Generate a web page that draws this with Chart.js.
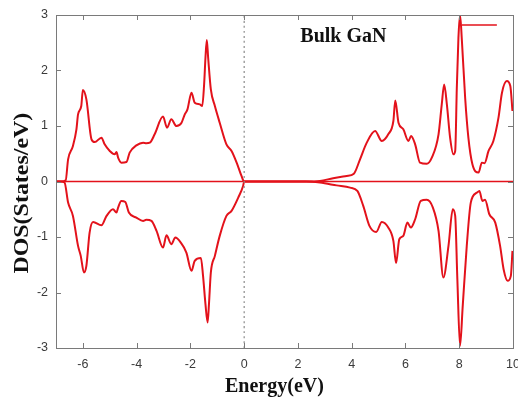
<!DOCTYPE html>
<html>
<head>
<meta charset="utf-8">
<script src="https://cdn.jsdelivr.net/npm/chart.js@4.4.1/dist/chart.umd.min.js"></script>
<style>
  html, body { margin: 0; padding: 0; background: #fff; }
</style>
</head>
<body>
<canvas id="chart" width="518" height="398"></canvas>
<script>
'use strict'

// ------------- data ------------- //
var upEnergy = [-7.0, -6.8, -6.64, -6.55, -6.37, -6.24, -6.18, -6.06, -6.0, -5.87,
  -5.68, -5.56, -5.31, -5.19, -5.0, -4.82, -4.75, -4.69, -4.57, -4.38,
  -4.26, -4.01, -3.76, -3.64, -3.51, -3.33, -3.02, -2.87, -2.71, -2.52,
  -2.33, -2.21, -2.11, -1.96, -1.84, -1.65, -1.56, -1.49, -1.44, -1.39,
  -1.34, -1.24, -1.09, -0.91, -0.66, -0.47, -0.28, -0.1, 0.0, 1.8,
  2.3, 2.82, 3.31, 3.81, 4.08, 4.31, 4.56, 4.87, 5.12, 5.36,
  5.55, 5.62, 5.74, 5.92, 6.11, 6.21, 6.36, 6.54, 6.79, 6.98,
  7.23, 7.35, 7.44, 7.54, 7.66, 7.78, 7.85, 7.91, 7.97, 8.03,
  8.1, 8.22, 8.34, 8.49, 8.72, 8.84, 8.94, 9.09, 9.27, 9.46,
  9.59, 9.77, 9.9, 9.98];
var upDos = [0, 0, 0.02, 0.4, 0.64, 0.94, 1.21, 1.36, 1.65, 1.48,
  0.76, 0.71, 0.79, 0.67, 0.55, 0.49, 0.53, 0.43, 0.34, 0.35,
  0.52, 0.65, 0.7, 0.69, 0.7, 0.85, 1.17, 0.97, 1.12, 1.0,
  1.06, 1.21, 1.3, 1.6, 1.42, 1.39, 1.36, 1.75, 2.23, 2.55,
  2.23, 1.66, 1.36, 1.06, 0.67, 0.55, 0.34, 0.1, 0, 0,
  0, 0.01, 0.06, 0.1, 0.14, 0.4, 0.7, 0.91, 0.73, 0.85,
  1.09, 1.46, 1.06, 0.94, 0.73, 0.82, 0.67, 0.34, 0.32, 0.43,
  0.85, 1.39, 1.75, 1.39, 0.79, 0.49, 0.55, 1.69, 2.59, 3.0,
  2.53, 1.51, 0.79, 0.31, 0.16, 0.34, 0.33, 0.55, 0.73, 1.15,
  1.6, 1.81, 1.72, 1.27];

var downEnergy = [-7.0, -6.8, -6.68, -6.55, -6.37, -6.18, -6.08, -5.96, -5.87, -5.75,
  -5.62, -5.31, -5.12, -4.88, -4.75, -4.69, -4.57, -4.42, -4.29, -4.01,
  -3.76, -3.64, -3.45, -3.26, -3.02, -2.89, -2.71, -2.56, -2.36, -2.15,
  -1.96, -1.84, -1.61, -1.53, -1.44, -1.36, -1.31, -1.24, -1.09, -0.91,
  -0.66, -0.47, -0.22, -0.04, 0.0, 1.83, 2.3, 2.82, 3.44, 3.94,
  4.21, 4.43, 4.66, 4.91, 5.12, 5.36, 5.55, 5.65, 5.77, 5.92,
  6.07, 6.2, 6.36, 6.57, 6.79, 7.02, 7.23, 7.41, 7.6, 7.76,
  7.85, 7.93, 8.03, 8.13, 8.28, 8.43, 8.66, 8.75, 8.86, 8.96,
  9.12, 9.34, 9.52, 9.65, 9.8, 9.92, 9.98];
var downDos = [0, 0, -0.02, -0.38, -0.62, -1.16, -1.34, -1.64, -1.52, -0.92,
  -0.73, -0.79, -0.62, -0.5, -0.56, -0.47, -0.35, -0.37, -0.56, -0.65,
  -0.71, -0.69, -0.71, -0.89, -1.19, -0.97, -1.13, -1.01, -1.1, -1.28,
  -1.61, -1.43, -1.38, -1.7, -2.21, -2.54, -2.21, -1.64, -1.34, -0.98,
  -0.62, -0.53, -0.29, -0.08, 0, 0, 0, -0.02, -0.07, -0.11,
  -0.17, -0.44, -0.8, -0.91, -0.73, -0.83, -1.07, -1.47, -1.04, -0.98,
  -0.74, -0.83, -0.68, -0.35, -0.33, -0.47, -0.89, -1.73, -1.16, -0.5,
  -0.62, -1.76, -2.96, -2.24, -1.16, -0.38, -0.2, -0.17, -0.35, -0.33,
  -0.59, -0.74, -1.16, -1.58, -1.79, -1.7, -1.25];

// zero line, Fermi level and the short legend stroke
var zeroEnergy = [-7, 10];
var zeroDos = [0, 0];
var fermiEnergy = [0, 0];
var fermiDos = [-3, 3];
var keyEnergy = [8.1, 9.4];
var keyDos = [2.82, 2.82];

var xTickValues = [-6, -4, -2, 0, 2, 4, 6, 8, 10];
var yTickValues = [-3, -2, -1, 0, 1, 2, 3];
var label = 'Bulk GaN';
var xTitle = 'Energy(eV)';
var yTitle = 'DOS(States/eV)';

var RED = '#e3121b';
var SERIF = '"Liberation Serif", "DejaVu Serif", serif';

function pairs(xs, ys) {
  return xs.map(function (x, k) { return { x: x, y: ys[k] }; });
}

//------------- frame with inward ticks + titles ------------- //
var framePlugin = {
  id: 'frame',
  afterDatasetsDraw: function (chart) {
    var c = chart.ctx, a = chart.chartArea;
    var sx = chart.scales.x, sy = chart.scales.y;
    c.save();
    c.strokeStyle = '#7a7a7a';
    c.lineWidth = 1;
    c.strokeRect(Math.round(a.left) + 0.5, Math.round(a.top) + 0.5,
      Math.round(a.right - a.left), Math.round(a.bottom - a.top));
    c.beginPath();
    xTickValues.forEach(function (v) {
      var px = Math.round(sx.getPixelForValue(v)) + 0.5;
      c.moveTo(px, a.bottom); c.lineTo(px, a.bottom - 5);
      c.moveTo(px, a.top); c.lineTo(px, a.top + 5);
    });
    yTickValues.forEach(function (v) {
      var py = Math.round(sy.getPixelForValue(v)) + 0.5;
      c.moveTo(a.left, py); c.lineTo(a.left + 5, py);
      c.moveTo(a.right, py); c.lineTo(a.right - 5, py);
    });
    c.stroke();

    c.fillStyle = '#111';
    c.textAlign = 'center';
    c.textBaseline = 'middle';
    c.font = 'bold 20px ' + SERIF;
    c.fillText(label, sx.getPixelForValue(3.69), sy.getPixelForValue(2.6));

    // axis titles
    c.fillText(xTitle, a.left + (a.right - a.left) * 0.478, a.bottom + 39);
    c.translate(23, a.top + (a.bottom - a.top) * 0.535);
    c.rotate(-Math.PI / 2);
    c.scale(1.14, 1);
    c.font = 'bold 21px ' + SERIF;
    c.fillText(yTitle, 0, 0);
    c.restore();
  }
};

function initChart() {
  var ctx = document.getElementById('chart').getContext('2d');

  var line = function (data, color, width, extra) {
    var ds = {
      data: data,
      borderColor: color,
      borderWidth: width,
      pointRadius: 0,
      fill: false,
      tension: 0.35,
      cubicInterpolationMode: 'monotone'
    };
    for (var k in extra) ds[k] = extra[k];
    return ds;
  };

  new Chart(ctx, {
    type: 'line',
    data: {
      datasets: [
        line(pairs(fermiEnergy, fermiDos), '#8a8a8a', 1.2, { borderDash: [2, 3], tension: 0 }),
        line(pairs(zeroEnergy, zeroDos), RED, 1.6, { tension: 0 }),
        line(pairs(upEnergy, upDos), RED, 2, {}),
        line(pairs(downEnergy, downDos), RED, 2, {}),
        line(pairs(keyEnergy, keyDos), RED, 1.6, { tension: 0 })
      ]
    },
    options: {
      responsive: false,
      animation: false,
      events: [],
      layout: { padding: { top: 15, right: 5, left: 0, bottom: 0 } },
      plugins: { legend: { display: false }, tooltip: { enabled: false } },
      scales: {
        x: {
          type: 'linear',
          min: -7,
          max: 10,
          afterBuildTicks: function (s) { s.ticks = xTickValues.map(function (v) { return { value: v }; }); },
          afterFit: function (s) { s.height = 50; s.paddingLeft = 0; s.paddingRight = 0; },
          grid: { display: false, drawTicks: false },
          border: { display: false },
          ticks: {
            padding: 9,
            color: '#3a3a3a',
            font: { family: '"Liberation Sans", Arial, sans-serif', size: 12.5 }
          }
        },
        y: {
          type: 'linear',
          min: -3,
          max: 3,
          afterBuildTicks: function (s) { s.ticks = yTickValues.map(function (v) { return { value: v }; }); },
          afterFit: function (s) { s.width = 56; s.paddingTop = 0; s.paddingBottom = 0; },
          grid: { display: false, drawTicks: false },
          border: { display: false },
          ticks: {
            padding: 8,
            color: '#3a3a3a',
            font: { family: '"Liberation Sans", Arial, sans-serif', size: 12.5 }
          }
        }
      }
    },
    plugins: [framePlugin]
  });
}

initChart();
</script>
</body>
</html>
